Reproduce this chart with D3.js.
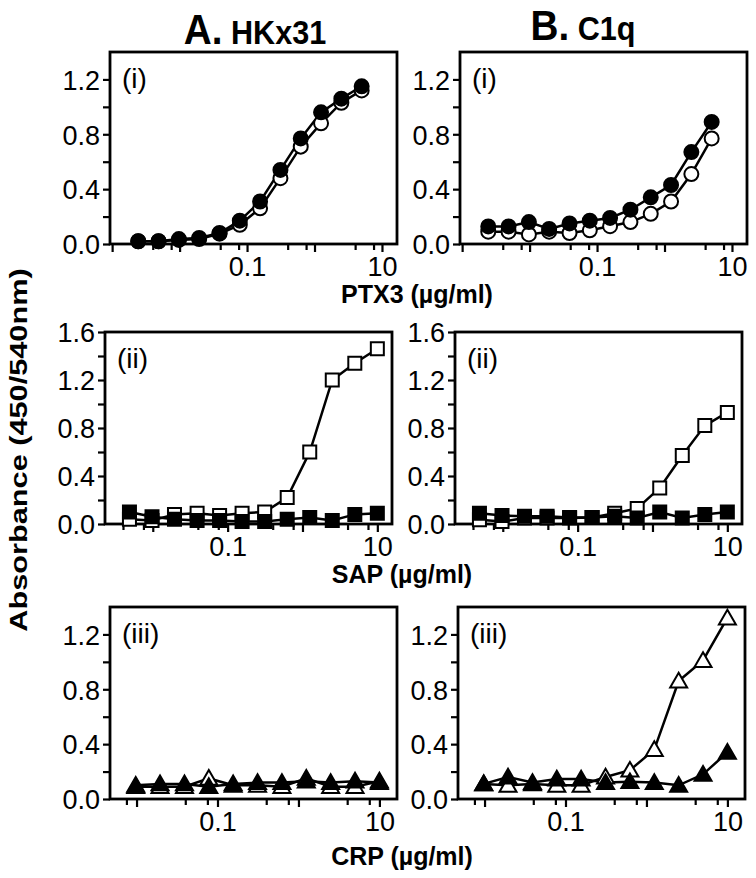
<!DOCTYPE html>
<html><head><meta charset="utf-8">
<script src="https://cdn.jsdelivr.net/npm/d3@7"></script>
<style>body{margin:0;background:#fff} svg{display:block}</style>
</head><body>
<script>
// ---------- data ----------
const concPTX3 = [0.00244,0.00488,0.00977,0.0195,0.0391,0.0781,0.156,0.3125,0.625,1.25,2.5,5];
const concSAP  = [0.00488,0.00977,0.0195,0.0391,0.0781,0.156,0.3125,0.625,1.25,2.5,5,10];
const concCRP  = [0.00977,0.0195,0.0391,0.0781,0.156,0.3125,0.625,1.25,2.5,5,10];

const hkPtx3Open   = [0.02,0.02,0.03,0.036,0.075,0.14,0.26,0.48,0.71,0.88,1.03,1.12];
const hkPtx3Filled = [0.02,0.02,0.036,0.044,0.08,0.17,0.31,0.54,0.77,0.96,1.06,1.15];
const c1qPtx3Open   = [0.09,0.09,0.07,0.09,0.08,0.10,0.13,0.16,0.22,0.31,0.51,0.77];
const c1qPtx3Filled = [0.128,0.128,0.16,0.11,0.15,0.17,0.19,0.25,0.34,0.43,0.67,0.89];

const hkSapOpen   = [0.04,0.03,0.08,0.09,0.07,0.09,0.10,0.22,0.60,1.20,1.34,1.46];
const hkSapFilled = [0.10,0.06,0.04,0.03,0.03,0.02,0.02,0.04,0.055,0.03,0.08,0.09];
const c1qSapOpen   = [0.035,0.02,0.05,0.05,0.05,0.055,0.09,0.13,0.30,0.57,0.82,0.93];
const c1qSapFilled = [0.09,0.07,0.065,0.065,0.055,0.055,0.065,0.05,0.10,0.05,0.08,0.10];

const hkCrpOpen   = [0.09,0.09,0.09,0.15,0.10,0.10,0.09,0.15,0.09,0.09,0.13];
const hkCrpFilled = [0.10,0.11,0.11,0.09,0.11,0.12,0.12,0.13,0.12,0.13,0.12];
const c1qCrpOpen   = [0.11,0.10,0.11,0.10,0.10,0.16,0.21,0.36,0.86,1.01,1.32];
const c1qCrpFilled = [0.11,0.16,0.12,0.145,0.145,0.12,0.126,0.12,0.10,0.18,0.34];

const xTickLabels = [0.1, 10];
const xMajorTicks = [0.001, 0.01, 0.1, 1, 10];
const xMinorTicks = [0.004, 0.0075, 0.04, 0.075, 0.4, 0.75, 4, 7.5];
const yTicksSmall = [0, 0.2, 0.4, 0.6, 0.8, 1.0, 1.2];
const yTicksLarge = [0, 0.2, 0.4, 0.6, 0.8, 1.0, 1.2, 1.4, 1.6];
const yLabelsSmall = [0, 0.4, 0.8, 1.2];
const yLabelsLarge = [0, 0.4, 0.8, 1.2, 1.6];

const columnTitles = [{big:"A.", small:" HKx31"}, {big:"B.", small:" C1q"}];
const rowTags = ["(i)", "(ii)", "(iii)"];
const xTitles = ["PTX3 (\u00b5g/ml)", "SAP (\u00b5g/ml)", "CRP (\u00b5g/ml)"];
const yTitle = "Absorbance (450/540nm)";

// ---------- layout ----------
const W = 756, H = 878;
const svg = d3.select("body").append("svg").attr("width", W).attr("height", H)
  .style("font-family", "'Liberation Sans', Arial, sans-serif");

const rows = [
  {top: 52,  xDom: [0.00093, 16.7], yMax: 1.4, yTicks: yTicksSmall, yLabels: yLabelsSmall, lefts: [110, 460], marker: "circle",
   series: [[concPTX3, hkPtx3Open, hkPtx3Filled], [concPTX3, c1qPtx3Open, c1qPtx3Filled]]},
  {top: 332, xDom: [0.0023, 15.7], yMax: 1.6, yTicks: yTicksLarge, yLabels: yLabelsLarge, lefts: [105, 455], marker: "square",
   series: [[concSAP, hkSapOpen, hkSapFilled], [concSAP, c1qSapOpen, c1qSapFilled]]},
  {top: 607, xDom: [0.0047, 16.5], yMax: 1.4, yTicks: yTicksSmall, yLabels: yLabelsSmall, lefts: [110, 458], marker: "triangle",
   series: [[concCRP, hkCrpOpen, hkCrpFilled], [concCRP, c1qCrpOpen, c1qCrpFilled]]}
];
const PW = 287, PH = 192;

const symbolFor = {
  circle: d3.symbol().type(d3.symbolCircle).size(Math.PI*7*7),
  square: d3.symbol().type(d3.symbolSquare).size(13*13),
  triangle: d3.symbol().type(d3.symbolTriangle).size(125)
};

rows.forEach((row, ri) => {
  row.lefts.forEach((left, ci) => {
    const g = svg.append("g").attr("transform", `translate(${left},${row.top})`);
    const x = d3.scaleLog().domain(row.xDom).range([0, PW]);
    const y = d3.scaleLinear().domain([0, row.yMax]).range([PH, 0]);

    // box
    g.append("rect").attr("width", PW).attr("height", PH)
      .attr("fill", "none").attr("stroke", "#000").attr("stroke-width", 2.8);

    // y axis
    const ya = d3.axisLeft(y).tickValues(row.yTicks).tickSize(7).tickPadding(3)
      .tickFormat(d => row.yLabels.some(v => Math.abs(v - d) < 1e-9) ? d3.format(".1f")(d) : "");
    const yg = g.append("g").call(ya);
    yg.select(".domain").remove();
    yg.selectAll("line").attr("stroke", "#000").attr("stroke-width", 2.2);
    yg.selectAll("text").attr("font-size", 27).attr("fill", "#000").attr("dy", "0.36em");

    // x axis majors + minors
    const inDom = v => v >= row.xDom[0] && v <= row.xDom[1];
    const xa = d3.axisBottom(x).tickValues(xMajorTicks.filter(inDom)).tickSize(8).tickPadding(5)
      .tickFormat(d => xTickLabels.includes(d) ? String(d) : "");
    const xg = g.append("g").attr("transform", `translate(0,${PH})`).call(xa);
    xg.select(".domain").remove();
    xg.selectAll("line").attr("stroke", "#000").attr("stroke-width", 2.2);
    xg.selectAll("text").attr("font-size", 27).attr("fill", "#000");
    const xm = d3.axisBottom(x).tickValues(xMinorTicks.filter(inDom)).tickSize(6).tickFormat("");
    const xmg = g.append("g").attr("transform", `translate(0,${PH})`).call(xm);
    xmg.select(".domain").remove();
    xmg.selectAll("line").attr("stroke", "#000").attr("stroke-width", 2.2);

    // panel tag
    g.append("text").attr("x", 12).attr("y", 36).attr("font-size", 28).text(rowTags[ri]);

    // series
    const [conc, openV, filledV] = row.series[ci];
    const line = d3.line().x((d, i) => x(conc[i])).y(d => y(d));
    [openV, filledV].forEach(vals => {
      g.append("path").attr("d", line(vals)).attr("fill", "none")
        .attr("stroke", "#000").attr("stroke-width", 2.5);
    });
    [[openV, "#fff"], [filledV, "#000"]].forEach(([vals, fill]) => {
      g.selectAll(null).data(vals).enter().append("path")
        .attr("d", symbolFor[row.marker])
        .attr("transform", (d, i) => `translate(${x(conc[i])},${y(d) + (row.marker === "triangle" ? 1.5 : 0)})`)
        .attr("fill", fill).attr("stroke", "#000").attr("stroke-width", 2);
    });
  });
});

// column titles
columnTitles.forEach((t, ci) => {
  const cx = ci === 0 ? 255 : 583;
  const ty = ci === 0 ? 44 : 40;
  const tx = svg.append("text").attr("text-anchor", "middle").attr("font-weight", "bold")
    .attr("transform", `translate(${cx},${ty}) scale(0.9,1)`);
  tx.append("tspan").attr("font-size", 43).text(t.big);
  tx.append("tspan").attr("font-size", 34).text(t.small);
});

// x titles
const xTitleY = [303, 583, 865];
const xTitleX = [417, 402, 402];
xTitles.forEach((t, i) => {
  svg.append("text").attr("x", xTitleX[i]).attr("y", xTitleY[i]).attr("text-anchor", "middle")
    .attr("font-weight", "bold").attr("font-size", 25).text(t);
});

// y title (stretched along its length, as in the reference)
svg.append("text").attr("transform", "translate(27,450) rotate(-90) scale(1.28,1)")
  .attr("text-anchor", "middle").attr("font-weight", "bold").attr("font-size", 24).text(yTitle);
</script>
</body></html>
